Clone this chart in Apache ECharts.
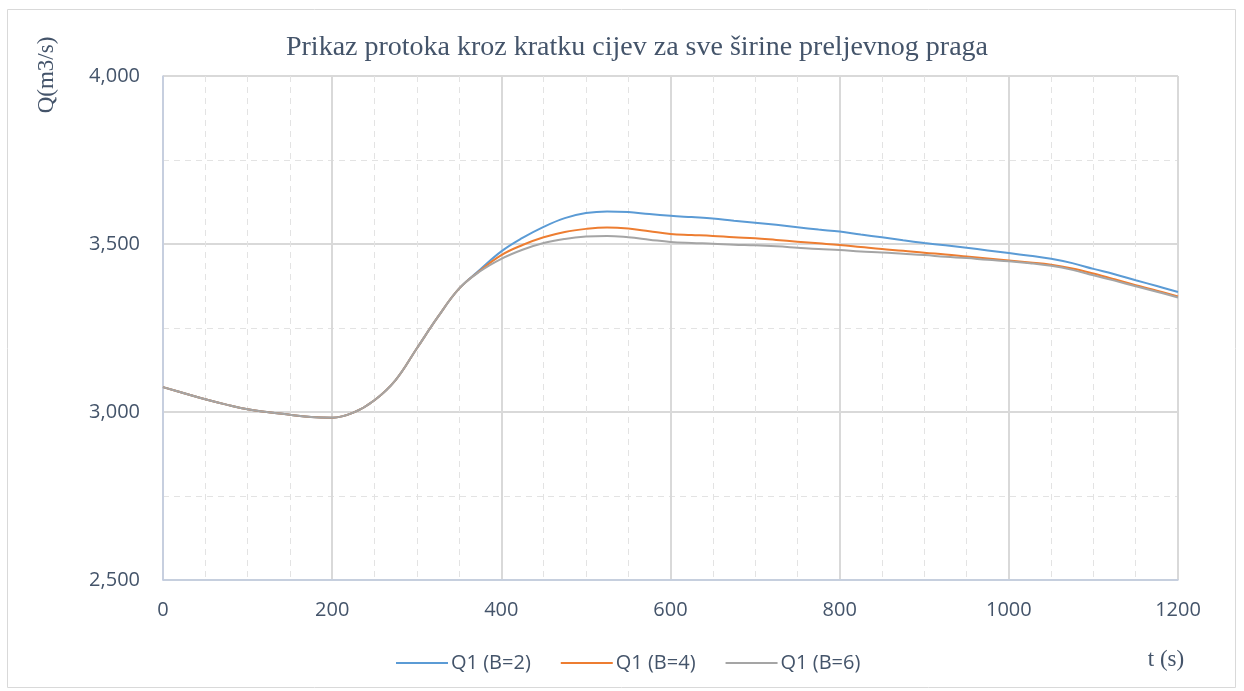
<!DOCTYPE html>
<html>
<head>
<meta charset="utf-8">
<script src="https://cdn.jsdelivr.net/npm/echarts@6/dist/echarts.min.js"></script>
<style>html,body{margin:0;padding:0;background:#fff}#c{width:1244px;height:691px}</style>
</head>
<body>
<div id="c"></div>
<script>
const tValues = [0,25,50,75,100,125,150,175,200,225,250,275,300,325,350,375,400,425,450,475,500,525,550,575,600,625,650,675,700,725,750,775,800,825,850,875,900,925,950,975,1000,1025,1050,1075,1100,1125,1150,1175,1200];
const commonStart = [3074,3056,3038,3022,3008,2999,2992,2985,2983,2998,3035,3095,3189,3283,3367];
const q1B2Tail = [3424,3478,3518,3551,3577,3592,3597,3595,3589,3584,3580,3576,3569,3563,3557,3550,3543,3537,3528,3520,3511,3503,3496,3489,3481,3473,3465,3456,3443,3426,3410,3392,3375,3357];
const q1B4Tail = [3421,3467,3497,3520,3536,3545,3549,3546,3538,3530,3527,3524,3520,3517,3512,3507,3502,3497,3491,3485,3480,3474,3469,3463,3457,3451,3445,3438,3427,3412,3395,3377,3361,3344];
const q1B6Tail = [3419,3456,3483,3503,3515,3522,3524,3520,3513,3506,3503,3501,3498,3496,3493,3489,3485,3482,3478,3475,3471,3467,3462,3458,3453,3449,3443,3435,3423,3407,3391,3374,3358,3341];
const seriesNames = ['Q1 (B=2)','Q1 (B=4)','Q1 (B=6)'];
const titleText = 'Prikaz protoka kroz kratku cijev za sve širine preljevnog praga';
const yAxisName = 'Q(m3/s)';
const xAxisName = 't (s)';

const q1B2 = commonStart.concat(q1B2Tail);
const q1B4 = commonStart.concat(q1B4Tail);
const q1B6 = commonStart.concat(q1B6Tail);
const pairs = arr => tValues.map((t,i)=>[t,arr[i]]);

const colors = ['#5b9bd5','#ed7d31','#a5a5a5'];
const labelColor = '#44546a';
const chart = echarts.init(document.getElementById('c'));
chart.setOption({
  animation:false,
  title:{text:titleText,left:632,top:29,textAlign:'center',
    textStyle:{fontFamily:'Liberation Serif',fontWeight:'normal',fontSize:28,color:labelColor}},
  grid:{left:163,right:66,top:76,bottom:111},
  legend:{left:391,top:648,itemWidth:52,itemHeight:2,itemGap:30,icon:'rect',
    textStyle:{fontFamily:'Open Sans',fontSize:20,color:labelColor,padding:[0,0,0,-2]},
    data:seriesNames},
  xAxis:{type:'value',min:0,max:1200,interval:200,
    axisLine:{show:true,onZero:false,lineStyle:{color:'#c0cbe0',width:1.5}},
    axisTick:{show:false},
    axisLabel:{margin:20,fontFamily:'Open Sans',fontSize:20,color:labelColor,formatter:v=>String(v)},
    splitLine:{show:true,lineStyle:{color:'#d9d9d9',width:2}},
    minorTick:{show:false,splitNumber:4},
    minorSplitLine:{show:true,lineStyle:{color:'#e3e3e3',width:1,type:[6,5]}}},
  yAxis:{type:'value',min:2500,max:4000,interval:500,
    axisLine:{show:true,lineStyle:{color:'#c0cbe0',width:1.5}},
    axisTick:{show:false},
    axisLabel:{margin:23,fontFamily:'Open Sans',fontSize:20,color:labelColor,
      formatter:v=>v.toLocaleString('en-US')},
    splitLine:{show:true,lineStyle:{color:'#d9d9d9',width:2}},
    minorTick:{show:false,splitNumber:2},
    minorSplitLine:{show:true,lineStyle:{color:'#e3e3e3',width:1,type:[6,5]}}},
  graphic:[
    {type:'rect',shape:{x:7.5,y:9.5,width:1228,height:678},style:{fill:'none',stroke:'#d9d9d9',lineWidth:1},z:-1},
    {type:'text',x:47,y:75,rotation:Math.PI/2,
      style:{text:yAxisName,fontFamily:'Liberation Serif',fontSize:23,fill:labelColor,align:'center',verticalAlign:'middle'}},
    {type:'text',x:1166,y:660,
      style:{text:xAxisName,fontFamily:'Liberation Serif',fontSize:23,fill:labelColor,align:'center',verticalAlign:'middle'}}
  ],
  series:[
    {name:seriesNames[0],type:'line',data:pairs(q1B2),smooth:0.4,showSymbol:false,lineStyle:{color:colors[0],width:2},itemStyle:{color:colors[0]}},
    {name:seriesNames[1],type:'line',data:pairs(q1B4),smooth:0.4,showSymbol:false,lineStyle:{color:colors[1],width:2},itemStyle:{color:colors[1]}},
    {name:seriesNames[2],type:'line',data:pairs(q1B6),smooth:0.4,showSymbol:false,lineStyle:{color:colors[2],width:2},itemStyle:{color:colors[2]}}
  ]
});
</script>
</body>
</html>
